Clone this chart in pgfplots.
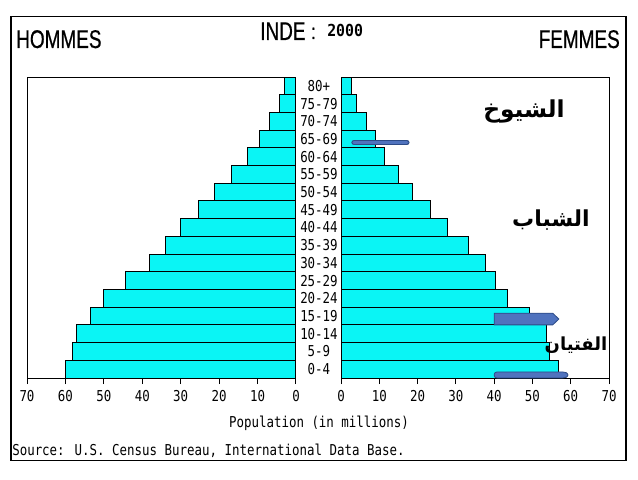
\documentclass[border=0pt]{standalone}
\usepackage{pgfplots}
\usepackage{pgfplotstable}
\pgfplotsset{compat=1.18}
\usepackage{fontspec}
\setmainfont{Liberation Sans}
\TeXXeTstate=1
\newfontfamily\tickfont[FakeStretch=0.83]{DejaVu Sans Mono}
\newfontfamily\headfont[FakeStretch=0.74,FakeBold=0.6]{Liberation Sans}
\newfontfamily\yearfont[FakeStretch=0.9]{DejaVu Sans Mono}
\newfontfamily\arabicfont[Script=Arabic]{DejaVu Sans}
\definecolor{barcyan}{RGB}{10,245,245}
\definecolor{arrowblue}{RGB}{80,115,190}
\definecolor{arrowdark}{RGB}{45,75,135}
\newcommand{\tf}{\tickfont\fontsize{11.25}{12}\selectfont}

\pgfplotstableread{
age m f
0 60.0 56.7
1 58.2 54.5
2 57.1 53.8
3 53.6 49.3
4 50.2 43.5
5 44.4 40.3
6 38.0 37.7
7 33.9 33.3
8 30.0 27.8
9 25.4 23.3
10 21.1 18.8
11 16.9 15.1
12 12.7 11.4
13 9.6 9.0
14 6.9 6.6
15 4.3 4.0
16 3.1 2.8
}\pyr

\pgfplotsset{pyr/.style={
  scale only axis, height=225.75pt,
  xbar, bar width=1,
  xmin=0, xmax=70, ymin=-0.5, ymax=16.5,
  ytick=\empty,
  xtick={0,10,...,70},
  xtick pos=left, tick align=outside,
  major tick length=4.5pt,
  tick style={black, line width=0.75pt},
  axis line style={black, line width=0.75pt},
  /pgf/number format/assume math mode=true,
  xticklabel style={font=\tf, yshift=-1.5pt},
  clip=false,
}}

\begin{document}
\begin{tikzpicture}
\fill[white] (0,0) rectangle (478.5pt,359.25pt);
\useasboundingbox (0,0) rectangle (478.5pt,359.25pt);

% left axis (men)
\begin{axis}[pyr, at={(121.125pt,75.75pt)}, anchor=south, width=201.75pt, x dir=reverse]
\addplot[fill=barcyan, draw=black, line width=0.75pt] table[x=m, y=age] {\pyr};
\end{axis}

% right axis (women)
\begin{axis}[pyr, at={(356.25pt,75.75pt)}, anchor=south, width=201pt]
\addplot[fill=barcyan, draw=black, line width=0.75pt] table[x=f, y=age] {\pyr};
\node[font=\tf] at (axis cs:-5.75,0) {0-4};
\node[font=\tf] at (axis cs:-5.75,1) {5-9};
\node[font=\tf] at (axis cs:-5.75,2) {10-14};
\node[font=\tf] at (axis cs:-5.75,3) {15-19};
\node[font=\tf] at (axis cs:-5.75,4) {20-24};
\node[font=\tf] at (axis cs:-5.75,5) {25-29};
\node[font=\tf] at (axis cs:-5.75,6) {30-34};
\node[font=\tf] at (axis cs:-5.75,7) {35-39};
\node[font=\tf] at (axis cs:-5.75,8) {40-44};
\node[font=\tf] at (axis cs:-5.75,9) {45-49};
\node[font=\tf] at (axis cs:-5.75,10) {50-54};
\node[font=\tf] at (axis cs:-5.75,11) {55-59};
\node[font=\tf] at (axis cs:-5.75,12) {60-64};
\node[font=\tf] at (axis cs:-5.75,13) {65-69};
\node[font=\tf] at (axis cs:-5.75,14) {70-74};
\node[font=\tf] at (axis cs:-5.75,15) {75-79};
\node[font=\tf] at (axis cs:-5.75,16) {80+};
% annotation arrows
\draw[arrowdark, line width=4pt, line cap=round] (axis cs:3.4,12.8) -- (axis cs:17.2,12.8);
\draw[arrowblue, line width=2.6pt, line cap=round] (axis cs:3.4,12.8) -- (axis cs:17.2,12.8);
\filldraw[fill=arrowblue, draw=arrowdark, line width=0.6pt]
  (axis cs:40,2.5) -- (axis cs:55.3,2.5) -- (axis cs:56.9,2.83) -- (axis cs:55.3,3.16) -- (axis cs:40,3.16) -- cycle;
\filldraw[fill=arrowblue, draw=arrowdark, line width=0.6pt, rounded corners=2pt]
  (axis cs:40,-0.5) -- (axis cs:58.6,-0.5) -- (axis cs:59.6,-0.33) -- (axis cs:58.6,-0.16) -- (axis cs:40,-0.16) -- cycle;
\end{axis}

\begin{scope}[x=0.75pt,y=0.75pt]
\draw[line width=1.1pt] (11,18.3) rectangle (626,462.3);
% headings
\node[anchor=base west, inner sep=0, font=\headfont\fontsize{19.2}{20}\selectfont] at (16,431) {HOMMES};
\node[anchor=base east, inner sep=0, font=\headfont\fontsize{19.2}{20}\selectfont] at (620,431) {FEMMES};
\node[anchor=base west, inner sep=0, font=\headfont\fontsize{19.2}{20}\selectfont] at (260,439) {INDE};
\node[anchor=base west, inner sep=0, font=\headfont\fontsize{16}{18}\selectfont] at (311,440) {:};
\node[anchor=base west, inner sep=0, font=\yearfont\bfseries\fontsize{12.4}{14}\selectfont] at (327,442.3) {2000};
% axis title and source
\node[font=\tf] at (319,56) {Population (in millions)};
\node[anchor=base west, inner sep=0, font=\tf] at (12,24) {Source: U.S. Census Bureau, International Data Base.};
% arabic annotations
\node[font=\arabicfont\bfseries\fontsize{17.5}{19}\selectfont] at (524,368) {\beginR الشيوخ\endR};
\node[font=\arabicfont\bfseries\fontsize{16.5}{18}\selectfont] at (551,259) {\beginR الشباب\endR};
\node[font=\arabicfont\bfseries\fontsize{13.5}{15}\selectfont] at (576,134) {\beginR الفتيان\endR};
\end{scope}
\end{tikzpicture}
\end{document}
